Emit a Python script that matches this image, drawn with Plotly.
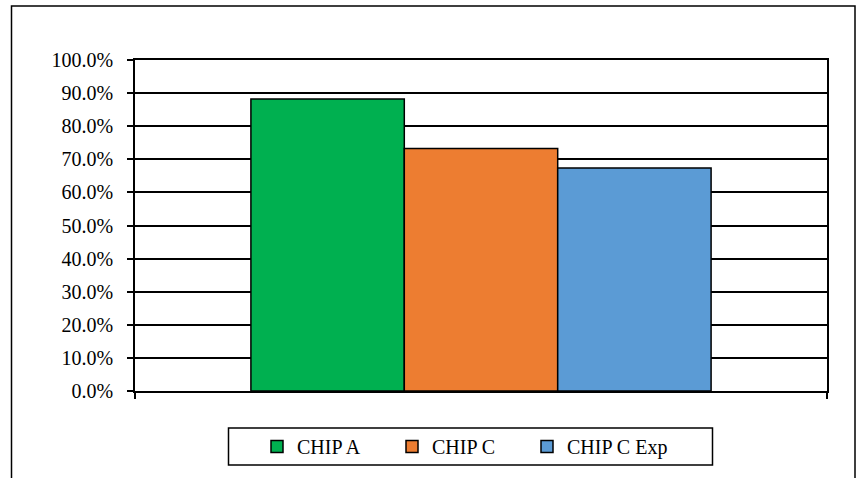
import plotly.graph_objects as go

# Data
categories = ["Chip"]
series_names = ["CHIP A", "CHIP C", "CHIP C Exp"]
series_values = [[0.882], [0.733], [0.674]]
series_colors = ["#00B050", "#ED7D31", "#5B9BD5"]
y_tick_values = [i / 10 for i in range(11)]

W, H = 859, 478
M_L, M_R, M_T, M_B = 135, 32, 60, 87
PW, PH = W - M_L - M_R, H - M_T - M_B


def px_x(x):
    return (x - M_L) / PW


def px_y(y):
    return (H - M_B - y) / PH


FONT = dict(family="Liberation Serif, Times New Roman, serif", size=20, color="black")

fig = go.Figure()
for i, (name, vals, col) in enumerate(zip(series_names, series_values, series_colors)):
    fig.add_trace(go.Bar(
        x=categories, y=vals, name=name,
        marker=dict(color=col, line=dict(color="black", width=1.5)),
        # the last legend entry gets room for its longer label
        legendwidth=120 if i == len(series_names) - 1 else None,
    ))

fig.update_layout(
    width=W, height=H,
    margin=dict(l=M_L, r=M_R, t=M_T, b=M_B),
    paper_bgcolor="white", plot_bgcolor="white",
    font=FONT,
    barmode="group", bargap=0.335, bargroupgap=0,
    showlegend=True,
    legend=dict(
        orientation="h",
        x=px_x(257), xanchor="left",
        y=px_y(427), yanchor="top",
        bgcolor="rgba(0,0,0,0)", borderwidth=0,
        font=FONT,
        entrywidth=90, entrywidthmode="pixels",
        traceorder="normal",
    ),
    shapes=[
        # outer chart frame
        dict(
            type="rect", xref="paper", yref="paper",
            x0=px_x(11.5), x1=px_x(855), y0=px_y(485), y1=px_y(6),
            line=dict(color="black", width=1.5), fillcolor="rgba(0,0,0,0)",
            layer="below",
        ),
        # legend frame
        dict(
            type="rect", xref="paper", yref="paper",
            x0=px_x(228.5), x1=px_x(712.5), y0=px_y(465), y1=px_y(428),
            line=dict(color="black", width=1.5), fillcolor="rgba(0,0,0,0)",
            layer="below",
        ),
    ],
)

fig.update_xaxes(
    showticklabels=False, showgrid=False,
    showline=True, linecolor="black", linewidth=1.5, mirror=True,
    ticks="outside", tickson="boundaries", ticklen=6, tickcolor="black", tickwidth=1.5,
    range=[-0.5, 0.5],
)
fig.update_yaxes(
    range=[0, 1], tickvals=y_tick_values, tickformat=".1%",
    showgrid=True, gridcolor="black", gridwidth=1.5,
    showline=True, linecolor="black", linewidth=1.5, mirror=True,
    ticks="outside", ticklen=6, tickcolor="black", tickwidth=1.5,
    ticklabelstandoff=10, zeroline=False,
)

fig.write_html("out.html")
